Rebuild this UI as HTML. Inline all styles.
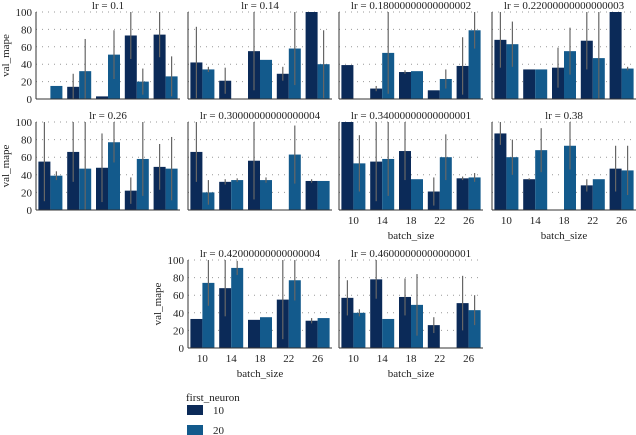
<!DOCTYPE html>
<html><head><meta charset="utf-8"><style>
body{margin:0;background:#fff}
svg{display:block;font-family:"Liberation Serif",serif}
</style></head><body>
<svg id="c" width="636" height="435"></svg>
<script>
const categories=[10,14,18,22,26];
const titles=["lr = 0.1","lr = 0.14","lr = 0.18000000000000002","lr = 0.22000000000000003","lr = 0.26","lr = 0.30000000000000004","lr = 0.34000000000000001","lr = 0.38","lr = 0.42000000000000004","lr = 0.46000000000000001"];
const yTicks=[0,20,40,60,80,100];
const dark=[[null,14,3,73,74],[42,21,55,29,100],[39,12,31,10,38],[68,34,36,67,100],[55,66,48,22,49],[66,32,56,null,33],[100,55,67,21,36],[87,35,null,28,47],[33,68,32,55,31],[57,78,58,26,51]];
const darkErr=[[0,15,0,27,26],[41,15,45,8,0],[0,3,2,0,33],[32,0,23,33,0],[45,34,39,15,26],[34,3,44,0,2],[0,45,33,16,2],[13,1,0,7,26],[0,32,0,45,3],[20,22,21,9,31]];
const light=[[15,32,51,20,26],[34,null,45,58,40],[null,53,32,23,79],[63,34,55,47,35],[39,47,77,58,47],[20,34,34,63,33],[53,58,35,60,37],[60,68,73,35,45],[74,91,35,77,34],[40,33,49,null,43]];
const lightErr=[[0,37,28,15,23],[3,0,0,42,39],[0,47,0,11,21],[26,0,27,53,2],[5,53,23,42,36],[14,2,3,33,0],[32,42,0,26,5],[20,25,27,0,28],[26,8,0,23,0],[4,0,35,0,17]];

const svg=document.getElementById('c');
const NS='http://www.w3.org/2000/svg';
function mk(tag,attrs,parent){const e=document.createElementNS(NS,tag);for(const k in attrs)e.setAttribute(k,attrs[k]);(parent||svg).appendChild(e);return e;}
const colX=[36,188,339,492], W=144;
const rowY=[[12,99],[122,210],[260,348]];
const layout=[[0,0],[1,0],[2,0],[3,0],[0,1],[1,1],[2,1],[3,1],[1,2],[2,2]];
const xLabelPanels=[6,7,8,9];
layout.forEach((p,i)=>{
  const x0=colX[p[0]],top=rowY[p[1]][0],bot=rowY[p[1]][1];
  const yS=v=>bot-(v/100)*(bot-top);
  const gw=W/categories.length;
  const xS=j=>x0+gw*j+gw/2;
  const g=mk('g',{});
  
  
  yTicks.forEach(t=>{if(t>0){const l=mk('line',{x1:x0,x2:x0+W,y1:yS(t),y2:yS(t),stroke:'#999','stroke-width':1,'stroke-dasharray':'1,5'},g);}});
  const tt=mk('text',{x:x0+W/2,y:top-3,'text-anchor':'middle','font-size':11,fill:'#222'},g);tt.textContent=titles[i];
  
  const bw=12;
  categories.forEach((c,j)=>{
    [[dark,darkErr,'#0b2a58',-bw],[light,lightErr,'#135a8c',0]].forEach(s=>{
      const v=s[0][i][j]; if(v===null)return;
      const bx=xS(j)+s[3];
      const r=mk('rect',{x:bx,y:yS(v),width:bw,height:bot-yS(v),fill:s[2]},g);
      
      const e=s[1][i][j];
      if(e>0){const hi=Math.min(100,v+e),lo=Math.max(0,v-e);
        const l=mk('line',{x1:bx+bw/2,x2:bx+bw/2,y1:yS(hi),y2:yS(lo),stroke:'#666','stroke-width':1.2},g);
        }
    });
    if(xLabelPanels.includes(i)){const t=mk('text',{x:xS(j),y:bot+14,'text-anchor':'middle','font-size':11,fill:'#222'},g);t.textContent=c;
      }
  });
  mk('line',{x1:x0,x2:x0,y1:top,y2:bot,stroke:'#333','stroke-width':1},g);
  mk('line',{x1:x0,x2:x0+W,y1:bot,y2:bot,stroke:'#333','stroke-width':1},g);
  if(p[0]===0||i===8){
    yTicks.forEach(t=>{const l=mk('text',{x:x0-4,y:yS(t)+4,'text-anchor':'end','font-size':11,fill:'#222'},g);l.textContent=t;
      });
    const yl=mk('text',{x:0,y:0,transform:`translate(${x0-27},${(top+bot)/2}) rotate(-90)`,'text-anchor':'middle','font-size':11,fill:'#222'},g);yl.textContent='val_mape';
    
  }
  if(xLabelPanels.includes(i)){const xl=mk('text',{x:x0+W/2,y:bot+29,'text-anchor':'middle','font-size':11,fill:'#222'},g);xl.textContent='batch_size';
    }
});
const lg=mk('g',{});


const lt=mk('text',{x:186,y:401,'font-size':11,fill:'#222'},lg);lt.textContent='first_neuron';
[['10','#0b2a58',405],['20','#135a8c',425]].forEach(a=>{
  const r=mk('rect',{x:187,y:a[2],width:16,height:10,fill:a[1]},lg);
  
  const t=mk('text',{x:213,y:a[2]+9,'font-size':11,fill:'#222'},lg);t.textContent=a[0];
  
});
</script>
</body></html>
